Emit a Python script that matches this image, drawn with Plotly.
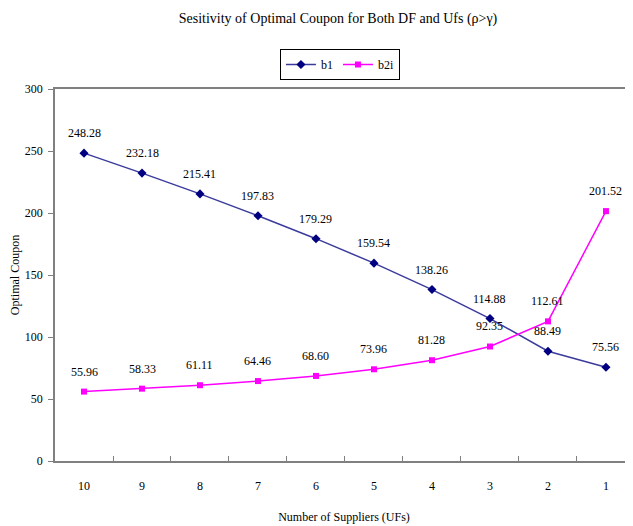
import plotly.graph_objects as go

categories = ["10", "9", "8", "7", "6", "5", "4", "3", "2", "1"]
b1 = [248.28, 232.18, 215.41, 197.83, 179.29, 159.54, 138.26, 114.88, 88.49, 75.56]
b2i = [55.96, 58.33, 61.11, 64.46, 68.60, 73.96, 81.28, 92.35, 112.61, 201.52]
y_ticks = [0, 50, 100, 150, 200, 250, 300]

FONT = "Liberation Serif"

fig = go.Figure()
fig.add_trace(go.Scatter(
    x=categories, y=b1, name="b1", mode="lines+markers",
    line=dict(color="#3b3b9c", width=1.5),
    marker=dict(symbol="diamond", size=7, color="#000080"),
))
fig.add_trace(go.Scatter(
    x=categories, y=b2i, name="b2i", mode="lines+markers",
    line=dict(color="#ff00ff", width=1.5),
    marker=dict(symbol="square", size=6, color="#ff00ff"),
))

for series in (b1, b2i):
    for i, v in enumerate(series):
        fig.add_annotation(
            x=i, y=v, text=f"{v:.2f}", showarrow=False,
            yshift=20, font=dict(family=FONT, size=12, color="#000000"),
        )

# page body has an 8px margin; figure sized to fill the remaining window
W, H = 625, 518
fig.update_layout(
    width=W, height=H,
    margin=dict(l=47, r=0, t=81, b=65),
    paper_bgcolor="white", plot_bgcolor="white",
    font=dict(family=FONT, size=12, color="#000000"),
    title=dict(
        text="Sesitivity of Optimal Coupon for Both DF and Ufs (ρ>γ)",
        x=0.528, xanchor="center", yref="container", y=1 - 10 / H, yanchor="middle",
        font=dict(family=FONT, size=14, color="#000000"),
    ),
    legend=dict(
        orientation="h", x=0.493, xanchor="center",
        yref="container", y=1 - 41 / H, yanchor="top",
        bordercolor="#000000", borderwidth=1, bgcolor="white",
        font=dict(family=FONT, size=12), itemwidth=30,
        tracegroupgap=0,
    ),
    showlegend=True,
)

fig.update_xaxes(
    type="category", range=[-0.5, 9.466], automargin=False,
    showline=True, linecolor="#808080", linewidth=1.5, mirror=True,
    ticks="inside", ticklen=5, tickcolor="#808080", tickson="boundaries",
    ticklabelstandoff=13, showgrid=False, zeroline=False,
    title=dict(text="Number of Suppliers (UFs)", standoff=20, font=dict(family=FONT, size=12)),
)
fig.update_yaxes(
    range=[0, 300], tickvals=y_ticks, automargin=False,
    showline=True, linecolor="#808080", linewidth=1.5,
    ticks="outside", ticklen=5, tickcolor="#808080", ticklabelstandoff=3,
    showgrid=False, zeroline=False,
    title=dict(text="Optimal Coupon", standoff=3, font=dict(family=FONT, size=12)),
)

fig.write_html("out.html")
